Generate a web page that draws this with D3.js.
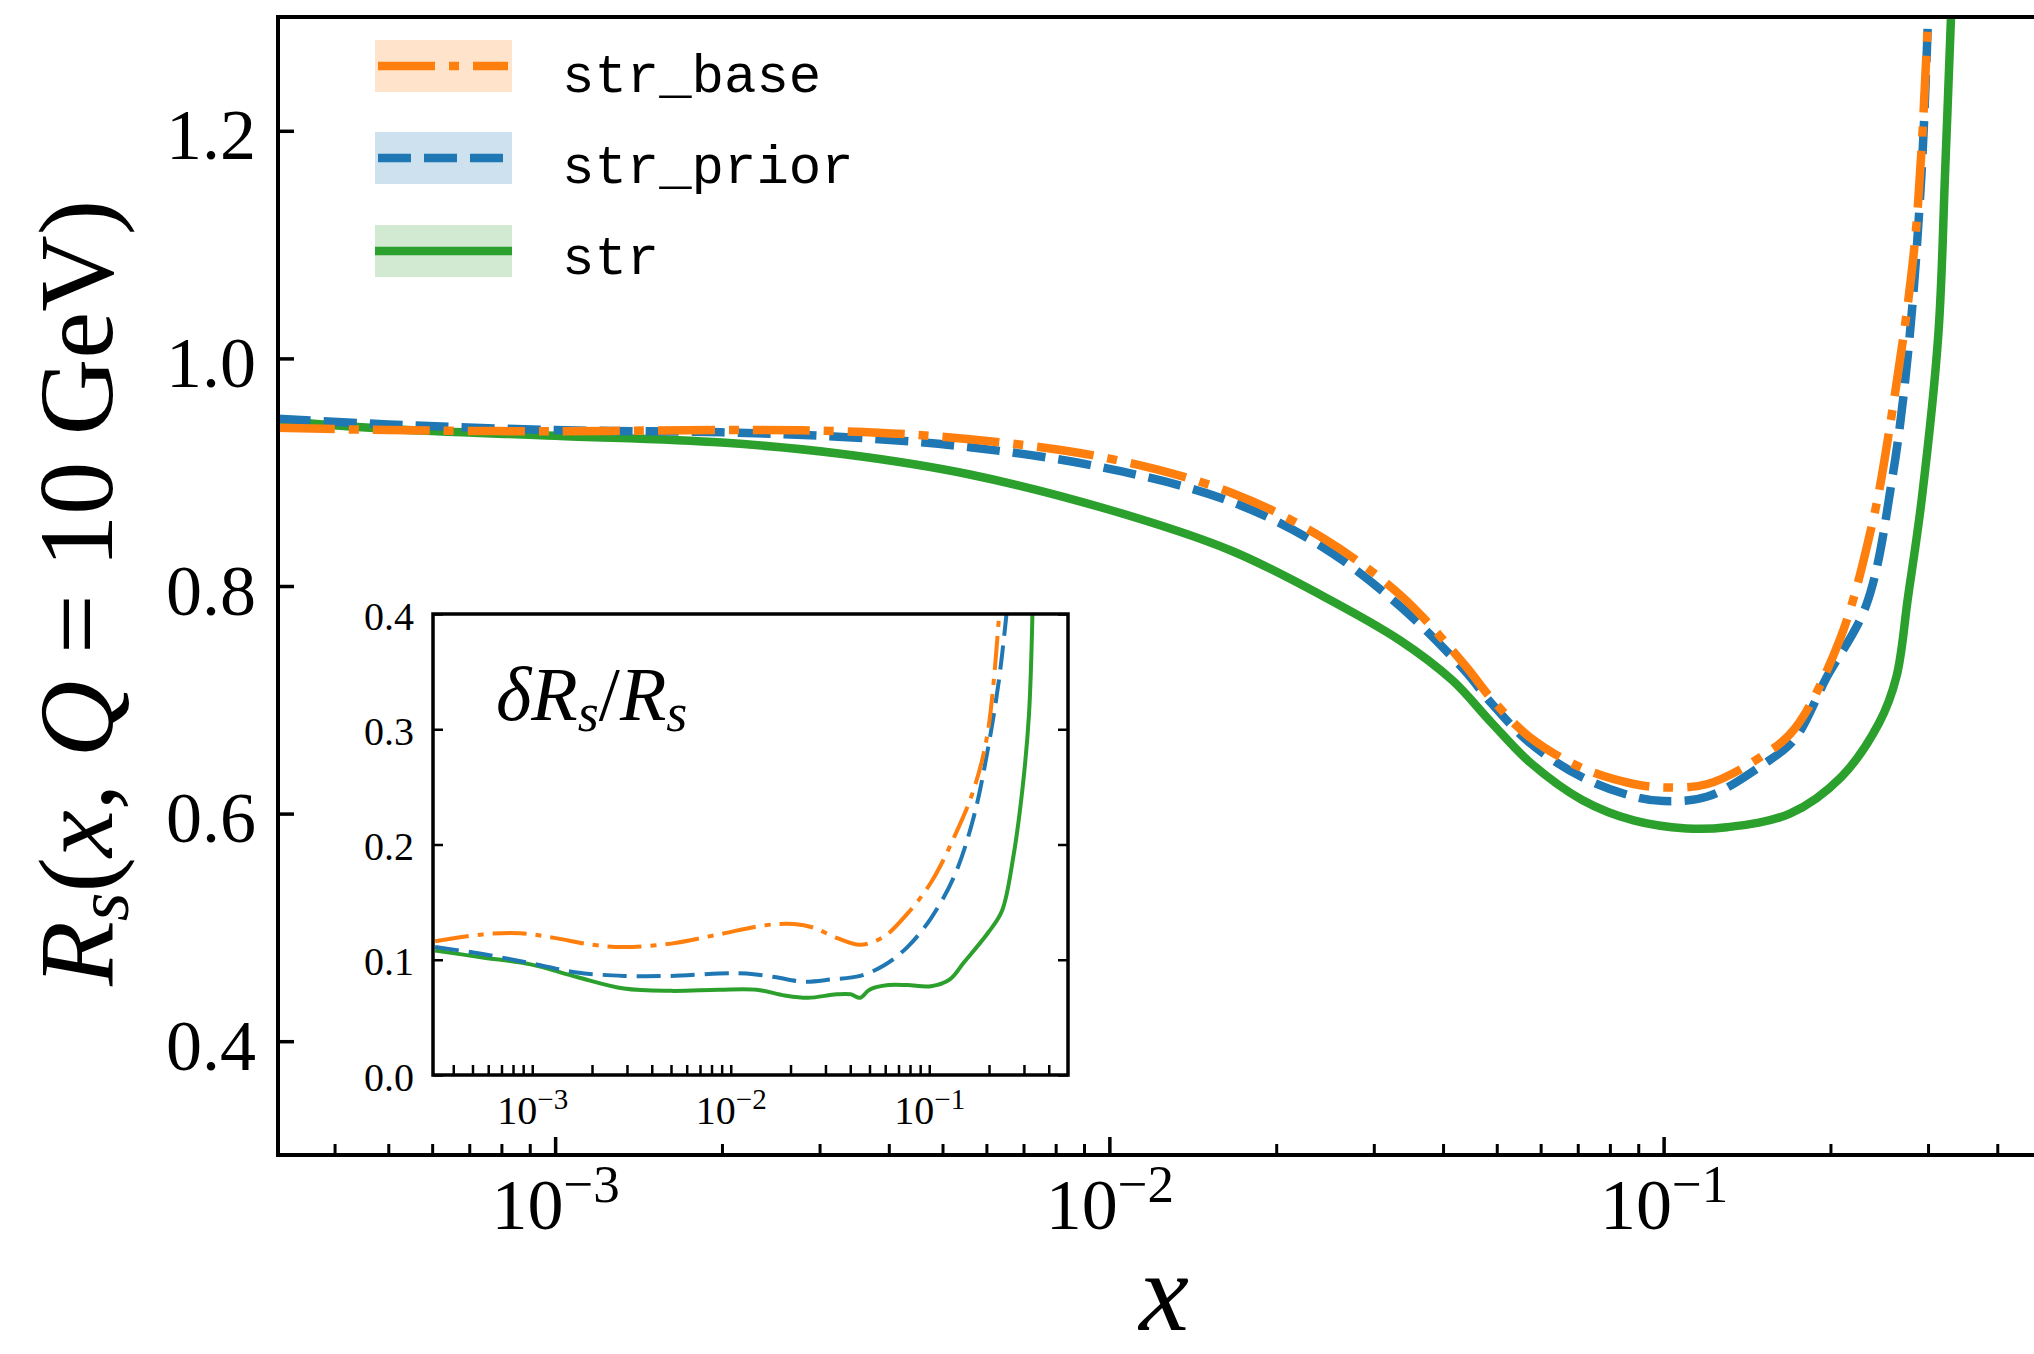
<!DOCTYPE html>
<html><head><meta charset="utf-8">
<script src="https://cdn.jsdelivr.net/npm/d3@7"></script>
<style>body{margin:0;background:#fff}svg{display:block}</style>
</head><body>
<svg id="chart" width="2034" height="1354"></svg>
<script>
// ---------------- data ----------------
const seriesNames = ["str_base", "str_prior", "str"];
const seriesColors = ["#ff7f0e", "#1f77b4", "#2ca02c"];

// main panel: R_s(x, Q = 10 GeV)
const mainX_base  = [3.16e-4, 5e-4, 1e-3, 2e-3, 3.3e-3, 5.6e-3, 0.01, 0.0166, 0.0243, 0.0335, 0.0437, 0.0489, 0.0574, 0.0713, 0.0883, 0.1, 0.12, 0.151, 0.172, 0.208, 0.238, 0.255, 0.284, 0.30];
const mainR_base  = [0.939, 0.937, 0.936, 0.937, 0.936, 0.929, 0.912, 0.882, 0.842, 0.792, 0.731, 0.701, 0.667, 0.640, 0.626, 0.623, 0.626, 0.651, 0.674, 0.753, 0.855, 0.935, 1.102, 1.30];
const mainX_prior = [3.16e-4, 5e-4, 1e-3, 2e-3, 3.3e-3, 5.6e-3, 0.01, 0.0166, 0.0243, 0.0335, 0.0437, 0.0489, 0.0574, 0.0713, 0.0883, 0.1, 0.12, 0.151, 0.172, 0.197, 0.232, 0.259, 0.277, 0.292, 0.30];
const mainR_prior = [0.947, 0.942, 0.937, 0.935, 0.931, 0.922, 0.903, 0.874, 0.834, 0.782, 0.726, 0.697, 0.662, 0.632, 0.615, 0.611, 0.615, 0.643, 0.665, 0.720, 0.783, 0.897, 1.012, 1.163, 1.30];
const mainX_str   = [3.16e-4, 5e-4, 1e-3, 2e-3, 3.3e-3, 5.6e-3, 0.01, 0.0166, 0.0243, 0.0335, 0.0416, 0.0489, 0.0574, 0.0713, 0.0883, 0.11, 0.13, 0.169, 0.209, 0.245, 0.263, 0.276, 0.292, 0.313, 0.322, 0.33];
const mainR_str   = [0.945, 0.938, 0.932, 0.926, 0.916, 0.898, 0.867, 0.831, 0.791, 0.752, 0.717, 0.680, 0.645, 0.612, 0.594, 0.587, 0.588, 0.600, 0.632, 0.680, 0.720, 0.790, 0.875, 1.020, 1.163, 1.30];

// inset: delta R_s / R_s
const insetX_base  = [3.24e-4, 5.62e-4, 8.7e-4, 1.29e-3, 2.0e-3, 2.9e-3, 5.0e-3, 8.7e-3, 0.015, 0.0208, 0.026, 0.0341, 0.0449, 0.059, 0.0776, 0.102, 0.134, 0.167, 0.197, 0.225];
const insetD_base  = [0.116, 0.122, 0.123, 0.119, 0.113, 0.111, 0.114, 0.122, 0.130, 0.131, 0.128, 0.119, 0.113, 0.120, 0.140, 0.167, 0.207, 0.247, 0.297, 0.400];
const insetX_prior = [3.24e-4, 5.62e-4, 9.8e-4, 1.68e-3, 2.9e-3, 5.0e-3, 8.7e-3, 0.012, 0.0166, 0.0233, 0.0324, 0.0449, 0.059, 0.0776, 0.102, 0.134, 0.167, 0.197, 0.225, 0.245];
const insetD_prior = [0.111, 0.105, 0.097, 0.089, 0.086, 0.086, 0.088, 0.088, 0.085, 0.081, 0.083, 0.086, 0.095, 0.111, 0.136, 0.173, 0.223, 0.282, 0.344, 0.400];
const insetX_str   = [3.24e-4, 5.62e-4, 9.8e-4, 1.68e-3, 2.9e-3, 5.0e-3, 8.7e-3, 0.0135, 0.0187, 0.0245, 0.0341, 0.0402, 0.0449, 0.05, 0.0622, 0.0776, 0.102, 0.127, 0.15, 0.197, 0.232, 0.265, 0.296, 0.318, 0.331];
const insetD_str   = [0.108, 0.102, 0.096, 0.085, 0.075, 0.073, 0.074, 0.074, 0.069, 0.067, 0.070, 0.070, 0.067, 0.074, 0.078, 0.078, 0.077, 0.083, 0.098, 0.123, 0.142, 0.189, 0.251, 0.313, 0.400];

// axes
const xDomain = [Math.pow(10, -3.5), 0.5];
const mainYDomain = [0.3, 1.3];
const insetYDomain = [0, 0.4];
const xMajorTicks = [1e-3, 1e-2, 1e-1];
const xMajorExp = ["\u22123", "\u22122", "\u22121"];
const mainYTicks = [0.4, 0.6, 0.8, 1.0, 1.2];
const mainYLabels = ["0.4", "0.6", "0.8", "1.0", "1.2"];
const insetYTicks = [0.0, 0.1, 0.2, 0.3, 0.4];
const insetYLabels = ["0.0", "0.1", "0.2", "0.3", "0.4"];

// ---------------- drawing ----------------
const serif = "'Liberation Serif','Times New Roman',serif";
const mono = "'Liberation Mono','DejaVu Sans Mono',monospace";
const svg = d3.select("#chart");

const M = {left: 278, right: 2051, top: 17, bottom: 1155};
const I = {left: 433, right: 1068, top: 614, bottom: 1075};

const x = d3.scaleLog().domain(xDomain).range([M.left, M.right]);
const y = d3.scaleLinear().domain(mainYDomain).range([M.bottom, M.top]);
const xi = d3.scaleLog().domain(xDomain).range([I.left, I.right]);
const yi = d3.scaleLinear().domain(insetYDomain).range([I.bottom, I.top]);

const defs = svg.append("defs");
defs.append("clipPath").attr("id", "clipMain").append("rect")
  .attr("x", M.left).attr("y", M.top).attr("width", M.right - M.left).attr("height", M.bottom - M.top);
defs.append("clipPath").attr("id", "clipInset").append("rect")
  .attr("x", I.left).attr("y", I.top).attr("width", I.right - I.left).attr("height", I.bottom - I.top);

const mainDash = ["57 14 10 14", "33 13", null];
const insetDash = ["34 9 6 9", "24 10", null];

const mainData = [d3.zip(mainX_base, mainR_base), d3.zip(mainX_prior, mainR_prior), d3.zip(mainX_str, mainR_str)];
const insetData = [d3.zip(insetX_base, insetD_base), d3.zip(insetX_prior, insetD_prior), d3.zip(insetX_str, insetD_str)];

const lineMain = d3.line().x(d => x(d[0])).y(d => y(d[1])).curve(d3.curveCatmullRom.alpha(0.5));
const lineInset = d3.line().x(d => xi(d[0])).y(d => yi(d[1])).curve(d3.curveCatmullRom.alpha(0.5));

const gMain = svg.append("g").attr("clip-path", "url(#clipMain)");
[2, 1, 0].forEach(k => {
  gMain.append("path").datum(mainData[k]).attr("d", lineMain)
    .attr("fill", "none").attr("stroke", seriesColors[k]).attr("stroke-width", 8.5)
    .attr("stroke-dasharray", mainDash[k]);
});

// ticks helpers
function styleAxis(g, tw) {
  g.select(".domain").remove();
  g.selectAll(".tick line").attr("stroke", "#000").attr("stroke-width", tw);
}
const minorTicks = x.ticks().filter(v => !xMajorTicks.some(t => Math.abs(t - v) / t < 1e-6) && v > xDomain[0] && v < xDomain[1]);

// main axes
const gxMinor = svg.append("g").attr("transform", `translate(0,${M.bottom})`)
  .call(d3.axisBottom(x).tickValues(minorTicks).tickSize(-11).tickFormat(""));
styleAxis(gxMinor, 3);
const gxMajor = svg.append("g").attr("transform", `translate(0,${M.bottom})`)
  .call(d3.axisBottom(x).tickValues(xMajorTicks).tickSize(-18).tickFormat(""));
styleAxis(gxMajor, 3.5);
gxMajor.selectAll(".tick").each(function(d, i) {
  const t = d3.select(this).append("text").attr("y", 74).attr("text-anchor", "middle")
    .attr("font-family", serif).attr("font-size", 72).attr("fill", "#000");
  t.append("tspan").text("10");
  t.append("tspan").attr("font-size", 53).attr("dy", -27).text(xMajorExp[i]);
});

const gyL = svg.append("g").attr("transform", `translate(${M.left},0)`)
  .call(d3.axisLeft(y).tickValues(mainYTicks).tickSize(-16).tickPadding(22).tickFormat((d, i) => mainYLabels[i]));
styleAxis(gyL, 3.5);
gyL.selectAll(".tick text").attr("font-family", serif).attr("font-size", 72).attr("fill", "#000").attr("dy", 28);
const gyR = svg.append("g").attr("transform", `translate(${M.right},0)`)
  .call(d3.axisRight(y).tickValues(mainYTicks).tickSize(-16).tickFormat(""));
styleAxis(gyR, 3.5);

svg.append("rect").attr("x", M.left).attr("y", M.top).attr("width", M.right - M.left).attr("height", M.bottom - M.top)
  .attr("fill", "none").attr("stroke", "#000").attr("stroke-width", 4);

// axis titles
const yl = svg.append("text").attr("transform", "translate(112,593) rotate(-90)")
  .attr("text-anchor", "middle").attr("font-family", serif).attr("font-size", 106).attr("fill", "#000");
yl.append("tspan").attr("font-style", "italic").text("R");
yl.append("tspan").attr("font-style", "italic").attr("font-size", 74).attr("dy", 16).text("s");
yl.append("tspan").attr("dy", -16).text("(");
yl.append("tspan").attr("font-style", "italic").text("x");
yl.append("tspan").text(", ");
yl.append("tspan").attr("font-style", "italic").text("Q");
yl.append("tspan").text(" = 10 GeV)");

svg.append("text").attr("x", 1164).attr("y", 1330).attr("text-anchor", "middle")
  .attr("font-family", serif).attr("font-style", "italic").attr("font-size", 112).attr("fill", "#000").text("x");

// legend
const legY = [66, 158, 251];
const legText = [92, 183, 274];
seriesNames.forEach((name, k) => {
  svg.append("rect").attr("x", 375).attr("y", legY[k] - 26).attr("width", 137).attr("height", 52)
    .attr("fill", seriesColors[k]).attr("fill-opacity", 0.22);
  svg.append("line").attr("x1", k === 2 ? 375 : 378).attr("x2", k === 2 ? 512 : 508)
    .attr("y1", legY[k]).attr("y2", legY[k])
    .attr("stroke", seriesColors[k]).attr("stroke-width", 8.5).attr("stroke-dasharray", mainDash[k]);
  svg.append("text").attr("x", 562).attr("y", legText[k]).attr("font-family", mono).attr("font-size", 54)
    .attr("fill", "#000").text(name);
});

// inset
svg.append("rect").attr("x", I.left).attr("y", I.top).attr("width", I.right - I.left).attr("height", I.bottom - I.top)
  .attr("fill", "#fff");
const gIn = svg.append("g").attr("clip-path", "url(#clipInset)");
[2, 1, 0].forEach(k => {
  gIn.append("path").datum(insetData[k]).attr("d", lineInset)
    .attr("fill", "none").attr("stroke", seriesColors[k]).attr("stroke-width", 4)
    .attr("stroke-dasharray", insetDash[k]);
});
const gixMinor = svg.append("g").attr("transform", `translate(0,${I.bottom})`)
  .call(d3.axisBottom(xi).tickValues(minorTicks).tickSize(-10).tickFormat(""));
styleAxis(gixMinor, 2.5);
const gixMajor = svg.append("g").attr("transform", `translate(0,${I.bottom})`)
  .call(d3.axisBottom(xi).tickValues(xMajorTicks).tickSize(-10).tickFormat(""));
styleAxis(gixMajor, 2.5);
gixMajor.selectAll(".tick").each(function(d, i) {
  const t = d3.select(this).append("text").attr("y", 49).attr("text-anchor", "middle")
    .attr("font-family", serif).attr("font-size", 40).attr("fill", "#000");
  t.append("tspan").text("10");
  t.append("tspan").attr("font-size", 29).attr("dy", -15).text(xMajorExp[i]);
});
const giyL = svg.append("g").attr("transform", `translate(${I.left},0)`)
  .call(d3.axisLeft(yi).tickValues(insetYTicks).tickSize(-10).tickPadding(19).tickFormat((d, i) => insetYLabels[i]));
styleAxis(giyL, 2.5);
giyL.selectAll(".tick text").attr("font-family", serif).attr("font-size", 40).attr("fill", "#000").attr("dy", 15);
const giyR = svg.append("g").attr("transform", `translate(${I.right},0)`)
  .call(d3.axisRight(yi).tickValues(insetYTicks).tickSize(-10).tickFormat(""));
styleAxis(giyR, 2.5);
svg.append("rect").attr("x", I.left).attr("y", I.top).attr("width", I.right - I.left).attr("height", I.bottom - I.top)
  .attr("fill", "none").attr("stroke", "#000").attr("stroke-width", 3.5);

const it = svg.append("text").attr("x", 496).attr("y", 720).attr("font-family", serif).attr("font-size", 76).attr("fill", "#000");
it.append("tspan").attr("font-style", "italic").text("\u03b4R");
it.append("tspan").attr("font-style", "italic").attr("font-size", 54).attr("dy", 11).text("s");
it.append("tspan").attr("dy", -11).text("/");
it.append("tspan").attr("font-style", "italic").text("R");
it.append("tspan").attr("font-style", "italic").attr("font-size", 54).attr("dy", 11).text("s");
</script>
</body></html>
